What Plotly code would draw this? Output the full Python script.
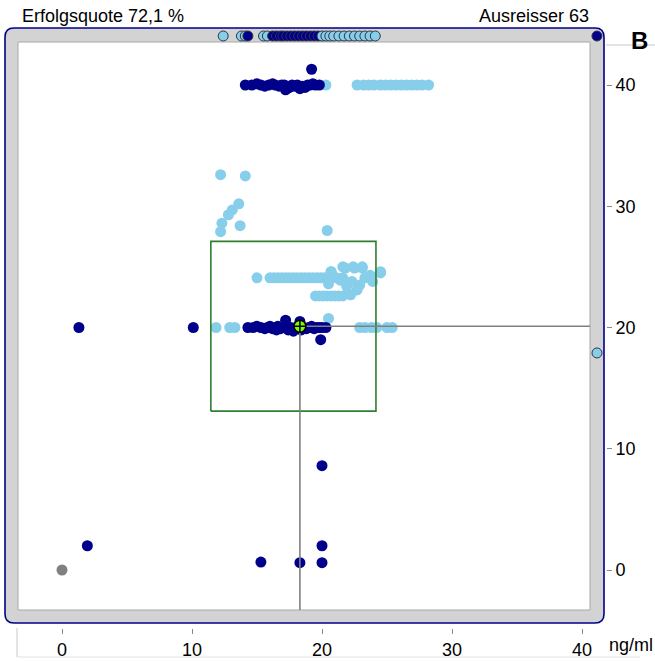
import plotly.graph_objects as go

# ---------------- data ----------------
x_ticks = [0, 10, 20, 30, 40]
y_ticks = [0, 10, 20, 30, 40]

# in-range points, dark blue
navy_x = [14.1, 14.6, 15.0, 15.3, 15.6, 15.9, 16.2, 16.4, 16.7, 16.9, 17.1, 17.3, 17.5, 17.7,
          17.9, 18.1, 18.3, 18.5, 18.7, 18.9, 19.1, 19.3, 19.5, 19.8, 17.2, 19.2,
          14.3, 14.7, 15.0, 15.3, 15.6, 15.8, 16.0, 16.2, 16.4, 16.6, 16.8, 17.0, 17.2, 17.4,
          17.6, 17.8, 18.0, 18.2, 18.4, 18.6, 18.8, 19.0, 19.2, 19.4, 19.6, 19.8, 20.0, 20.3,
          17.2, 18.3, 16.5, 17.8,
          1.3, 10.1, 19.9, 20.0, 1.95, 20.0, 15.3, 18.3, 20.0]
navy_y = [40.0, 40.0, 40.1, 40.0, 39.9, 40.0, 40.1, 40.0, 39.9, 40.0, 40.0, 39.7, 39.8, 40.0,
          39.9, 40.0, 39.7, 39.9, 39.8, 40.0, 40.0, 40.1, 40.0, 40.0, 39.6, 41.3,
          20.0, 20.0, 20.1, 20.0, 19.9, 20.0, 20.1, 19.9, 20.0, 20.1, 19.9, 20.0, 20.1, 19.8,
          20.0, 19.9, 20.0, 20.1, 19.8, 20.0, 19.9, 20.0, 20.1, 19.9, 20.0, 20.0, 20.0, 20.0,
          20.6, 20.5, 19.8, 19.7,
          20.0, 20.0, 19.0, 8.6, 2.0, 2.0, 0.65, 0.6, 0.6]

# in-range points, light blue
sky_x = [20.3, 22.7, 23.2, 23.6, 24.0, 24.5, 24.9, 25.3, 25.7, 26.1, 26.5, 26.9, 27.3, 27.7, 28.2,
         12.2, 14.1, 13.6, 13.1, 12.8, 12.3, 12.2, 13.7, 20.4,
         15.0, 16.0, 16.3, 16.6, 16.9, 17.2, 17.5, 17.8, 18.1, 18.4, 18.7, 19.0, 19.3, 19.6,
         19.9, 20.2, 20.5,
         20.7, 21.8, 22.5, 23.1, 24.5, 20.5, 21.4, 21.9, 22.3, 22.7, 23.3, 23.7, 23.9, 22.9,
         21.6, 21.1, 21.6, 22.4, 23.1, 24.5, 23.8, 20.7,
         19.5, 19.8, 20.1, 20.4, 20.7, 21.0, 21.3, 21.6, 22.2,
         11.85, 12.9, 13.3, 20.5, 22.9, 23.3, 23.8, 24.2, 25.0, 25.4]
sky_y = [40.0, 40.0, 40.0, 40.0, 40.0, 40.0, 40.0, 40.0, 40.0, 40.0, 40.0, 40.0, 40.0, 40.0, 40.0,
         32.6, 32.5, 30.2, 29.7, 29.3, 28.6, 27.9, 28.4, 28.0,
         24.1, 24.1, 24.1, 24.1, 24.1, 24.1, 24.1, 24.1, 24.1, 24.1, 24.1, 24.1, 24.1, 24.1,
         24.1, 24.1, 24.1,
         24.6, 24.9, 24.9, 24.9, 24.5, 23.6, 23.9, 23.4, 23.8, 23.1, 24.1, 24.3, 23.8, 23.5,
         24.1, 24.1, 25.0, 25.0, 25.0, 24.6, 24.2, 24.6,
         22.6, 22.6, 22.6, 22.6, 22.6, 22.6, 22.6, 22.6, 22.7,
         20.0, 20.0, 20.0, 20.75, 20.0, 20.0, 20.0, 20.0, 20.0, 20.0]

# gray point
gray_x = [0.0]
gray_y = [0.0]

# outliers above the scale (shown in the top strip): x values and group
top_x = [12.4, 13.8, 14.1, 14.3, 15.5, 15.8, 16.2, 16.5, 16.8, 17.0, 17.3, 17.6, 17.9, 18.2,
         18.5, 18.8, 19.1, 19.4, 19.7, 20.0, 20.3, 20.6, 20.9, 21.3, 21.7, 22.1, 22.5, 22.9,
         23.3, 23.7, 24.1, 41.15]
top_grp = ["s", "s", "s", "n", "s", "s", "n", "n", "n", "n", "n", "n", "n", "n",
           "n", "n", "n", "n", "n", "s", "s", "s", "s", "s", "s", "s", "s", "s",
           "s", "s", "s", "n"]
# outliers right of the scale (shown in the right strip): y values and group
right_y = [17.9]
right_grp = ["s"]

# assigned value (target) and tolerance box
target_x = [18.3]
target_y = [20.1]
box_x = [11.45, 24.15]
box_y = [13.1, 27.1]

# header texts
left_title = "Erfolgsquote 72,1 %"
right_title = "Ausreisser 63"
panel_label = "B"
unit_label = "ng/ml"

# ---------------- styling / geometry ----------------
NAVY = "#00008B"
SKY = "#87CEEB"
GRAY = "#808080"
W, H = 655, 661
L, R, T, B = 2, 606, 25, 628        # plot area in pixels
X0PX, XS = 62, 13.0                 # pixel of x=0, px per unit
Y0PX, YS = 570, 12.125              # pixel of y=0, px per unit


def vx(px):
    return (px - X0PX) / XS


def vy(px):
    return (Y0PX - px) / YS


xr = [vx(L), vx(R)]
yr = [vy(B), vy(T)]
strip_top_y = vy(36)
strip_right_x = vx(597)


def rounded(x0p, y0p, x1p, y1p, rp):
    a, b, c, d = vx(x0p), vx(x1p), vy(y0p), vy(y1p)
    rx, ry = rp / XS, rp / YS
    return (f"M {a+rx},{c} L {b-rx},{c} Q {b},{c} {b},{c-ry} L {b},{d+ry} "
            f"Q {b},{d} {b-rx},{d} L {a+rx},{d} Q {a},{d} {a},{d+ry} "
            f"L {a},{c-ry} Q {a},{c} {a+rx},{c} Z")


colmap = {"n": NAVY, "s": SKY}

fig = go.Figure()

fig.add_trace(go.Scatter(x=sky_x, y=sky_y, mode="markers",
                         marker=dict(color=SKY, size=11, line=dict(width=0)),
                         hoverinfo="skip"))
fig.add_trace(go.Scatter(x=navy_x, y=navy_y, mode="markers",
                         marker=dict(color=NAVY, size=11, line=dict(width=0)),
                         hoverinfo="skip"))
fig.add_trace(go.Scatter(x=gray_x, y=gray_y, mode="markers",
                         marker=dict(color=GRAY, size=11, line=dict(width=0)),
                         hoverinfo="skip"))
# strip outliers
fig.add_trace(go.Scatter(x=top_x, y=[strip_top_y] * len(top_x), mode="markers",
                         marker=dict(color=[colmap[g] for g in top_grp], size=10,
                                     line=dict(width=1, color="#333344")),
                         hoverinfo="skip"))
fig.add_trace(go.Scatter(x=[strip_right_x] * len(right_y), y=right_y, mode="markers",
                         marker=dict(color=[colmap[g] for g in right_grp], size=10,
                                     line=dict(width=1, color="#333344")),
                         hoverinfo="skip"))
# tolerance box
fig.add_trace(go.Scatter(x=[box_x[0], box_x[1], box_x[1], box_x[0], box_x[0]],
                         y=[box_y[0], box_y[0], box_y[1], box_y[1], box_y[0]],
                         mode="lines", line=dict(color="#2F7F2F", width=1.6),
                         hoverinfo="skip"))
# cross lines from target
fig.add_trace(go.Scatter(x=[target_x[0], target_x[0], None, target_x[0], vx(590)],
                         y=[vy(610), target_y[0], None, target_y[0], target_y[0]],
                         mode="lines", line=dict(color=GRAY, width=1.6),
                         hoverinfo="skip"))
fig.add_trace(go.Scatter(x=target_x, y=target_y, mode="markers",
                         marker=dict(symbol="circle-cross", color="#7CFC00", size=12,
                                     line=dict(width=1.5, color="black")),
                         hoverinfo="skip"))

shapes = [
    dict(type="path", path=rounded(5, 28, 604, 623, 9), xref="x", yref="y",
         fillcolor="#D3D3D3", line=dict(color=NAVY, width=1.6), layer="below"),
    dict(type="rect", x0=vx(18), x1=vx(590), y0=vy(610), y1=vy(42), xref="x", yref="y",
         fillcolor="white", line=dict(color="#A8A8A8", width=1), layer="below"),
]


def px2paper_x(px):
    return (px - L) / (R - L)


def px2paper_y(py):
    return (B - py) / (B - T)


# axis panel borders
shapes += [
    dict(type="line", xref="paper", yref="paper", x0=px2paper_x(17), x1=px2paper_x(17),
         y0=px2paper_y(628), y1=px2paper_y(657), line=dict(color="#C8C8C8", width=1)),
    dict(type="line", xref="paper", yref="paper", x0=px2paper_x(17), x1=px2paper_x(640),
         y0=px2paper_y(657), y1=px2paper_y(657), line=dict(color="#E2E2E2", width=1)),
    dict(type="line", xref="paper", yref="paper", x0=px2paper_x(606), x1=px2paper_x(655),
         y0=px2paper_y(45), y1=px2paper_y(45), line=dict(color="#C8C8C8", width=1)),
]

FONT = "Liberation Sans, Arial, sans-serif"
TXT = 18
annotations = [
    dict(text=left_title, xref="paper", yref="paper", x=px2paper_x(20), y=px2paper_y(16),
         xanchor="left", yanchor="middle", showarrow=False, font=dict(size=TXT, color="black")),
    dict(text=right_title, xref="paper", yref="paper", x=px2paper_x(591), y=px2paper_y(16),
         xanchor="right", yanchor="middle", showarrow=False, font=dict(size=TXT, color="black")),
    dict(text="<b>" + panel_label + "</b>", xref="paper", yref="paper", x=px2paper_x(639),
         y=px2paper_y(41), xanchor="center", yanchor="middle", showarrow=False,
         font=dict(size=24, color="black")),
    dict(text=unit_label, xref="paper", yref="paper", x=px2paper_x(655), y=px2paper_y(645),
         xanchor="right", yanchor="middle", showarrow=False, font=dict(size=TXT, color="black")),
]

fig.update_layout(
    width=W, height=H,
    margin=dict(l=L, r=W - R, t=T, b=H - B, pad=0),
    paper_bgcolor="white", plot_bgcolor="white",
    showlegend=False,
    font=dict(family=FONT, size=TXT, color="black"),
    shapes=shapes, annotations=annotations,
    xaxis=dict(range=xr, tickvals=x_ticks, ticktext=[str(v) for v in x_ticks],
               ticks="outside", ticklen=5, tickcolor="#888888", tickwidth=1,
               showgrid=False, zeroline=False, showline=False, fixedrange=True,
               tickfont=dict(size=TXT)),
    yaxis=dict(range=yr, tickvals=y_ticks, ticktext=[str(v) for v in y_ticks], side="right",
               ticks="outside", ticklen=5, tickcolor="#888888", tickwidth=1,
               showgrid=False, zeroline=False, showline=False, fixedrange=True,
               tickfont=dict(size=TXT)),
)

fig.write_html(
    "out.html",
    config={"displayModeBar": False, "staticPlot": True},
    post_script="document.body.style.margin='0px';document.body.style.padding='0px';"
                "document.body.style.overflow='hidden';",
)
